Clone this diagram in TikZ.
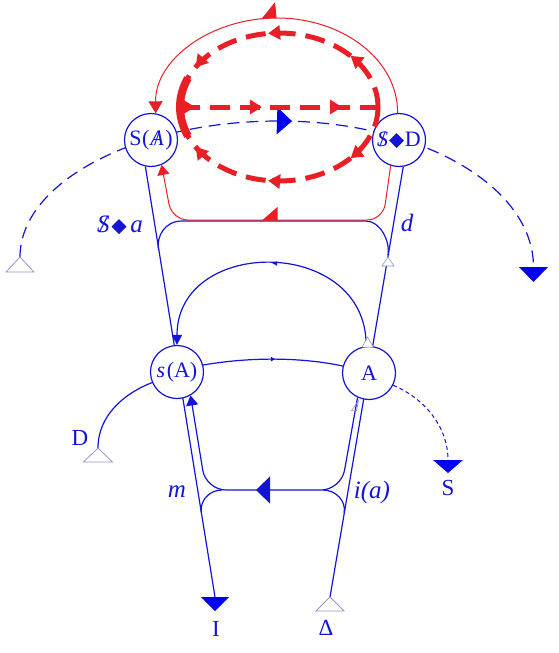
\documentclass[tikz,border=0pt]{standalone}
\usepackage{fontspec}
\setmainfont{Liberation Serif}
\usetikzlibrary{arrows.meta,decorations.markings}
\pgfdeclarelayer{bg}
\pgfsetlayers{bg,main}
\definecolor{bl}{RGB}{20,20,215}
\definecolor{bf}{RGB}{0,0,240}
\definecolor{rd}{RGB}{232,32,38}
\definecolor{tg}{RGB}{150,150,205}
\newcommand{\barS}{\ooalign{\textit{S}\cr\hfil/\hfil}}
\newcommand{\barA}{\ooalign{\textit{A}\cr\hfil/\hfil}}
\newcommand{\dmd}{\raisebox{-1.5pt}{\rotatebox{45}{\rule{10.5pt}{10.5pt}}}}
\tikzset{
  redTip/.tip={Triangle[length=12pt,width=14pt]},
  bline/.style={draw=bl,line width=1.2pt},
  rline/.style={draw=rd,line width=1pt},
  circ/.style={circle,draw=bl,line width=1.2pt,fill=white,minimum size=53pt,inner sep=0pt,text=bl,font=\fontsize{22}{24}\selectfont},
  lab/.style={text=bl,inner sep=0pt,font=\fontsize{23}{25}\selectfont},
  ilab/.style={text=bl,inner sep=0pt,font=\fontsize{25}{27}\selectfont\itshape},
  opentri/.style={draw=tg,line width=0.8pt,fill=white},
  bdash/.style={bline,dash pattern=on 12pt off 7pt},
  sdash/.style={draw=bl,line width=1pt,dash pattern=on 4pt off 3pt},
  rdash/.style={draw=rd,line width=5pt,dash pattern=on 20pt off 10pt},
  midmarks/.style={postaction={solid,decorate},decoration={markings,#1}}
}
\begin{document}
\begin{tikzpicture}[x=1pt,y=-1pt]
\useasboundingbox (0,0) rectangle (559,653);
\begin{pgfonlayer}{bg}
\fill[white] (0,0) rectangle (559,653);
\end{pgfonlayer}

% main nodes
\node[circ] (sa) at (151,140) {S\kern0.5pt(\kern1pt\barA\kern1.5pt)};
\node[circ] (sd) at (399,140) {\barS\kern1pt\dmd\kern1pt D};
\node[circ] (ssa) at (177,372) {\textit{s}\kern1.5pt(A)};
\node[circ] (A) at (369,373) {A};

% free ends
\coordinate (Lt) at (20,257);
\coordinate (top) at (279,121);
\coordinate (Rt) at (533.5,267);
\coordinate (Itop) at (215,597);
\coordinate (Dtop) at (330,597);
\coordinate (Dt) at (98,448);
\coordinate (St) at (448,460);
\coordinate (bl) at (158.5,250);
\coordinate (br) at (388,255);
\coordinate (hl) at (222,490);
\coordinate (hr) at (323,490);
\coordinate (ml) at (201.4,513);
\coordinate (mr) at (344.2,513);
\coordinate (er) at (378,107);
\coordinate (el) at (180,107);
\coordinate (et) at (279,33);
\coordinate (eb) at (279,181);
\coordinate (rt) at (277,18);

\begin{pgfonlayer}{bg}
\draw[bline] (sa.258) -- (Itop);
\draw[bline] (sd.279) -- (Dtop);
\draw[bdash] (Lt) .. controls (20,182) and (137,121) .. (top);
\draw[bdash,midmarks={mark=at position 13pt with {\arrow{Triangle[length=15pt,width=27pt,color=bf]}}}] (top) .. controls (420,121) and (533.5,186) .. (Rt);
\end{pgfonlayer}

% red top arc
\draw[rline,-{Triangle[length=12pt,width=14pt]},
  midmarks={mark=at position 0.545 with {\arrow{Triangle[length=15pt,width=30pt,right]}}}]
  (sd.93) .. controls (398,60) and (343,18) .. (rt) .. controls (210,18) and (155,60) .. (sa.80);

% blue bridge
\draw[bline] (bl) .. controls (156.2,236) and (165,221) .. (182,221) -- (366,221) .. controls (380,221) and (390.4,241) .. (br);

% red lower path
\draw[rline,rounded corners=16pt,-{Triangle[length=10pt,width=12pt]},
  midmarks={mark=at position 170pt with {\arrow{Triangle[length=15pt,width=26pt,right]}}}]
  (sd.252) -- (383,220) -- (172,220) -- (sa.293);

% A -> s(A) big arc
\draw[bline,-{Triangle[length=10pt,width=10pt]},
  midmarks={mark=at position 0.5 with {\arrow{Latex[length=5pt,width=5pt]}}}]
  (A.96) .. controls (367,236) and (177,236) .. (ssa.90);

% s(A) -> A
\draw[bline,midmarks={mark=at position 0.52 with {\arrow{Latex[length=5pt,width=5pt]}}}]
  (ssa.15) .. controls (250,357) and (300,357) .. (A.165);

% bottom inner path
\draw[bline,rounded corners=20pt,-{Triangle[length=10pt,width=12pt]},
  midmarks={mark=at position 172pt with {\arrow{Triangle[length=14pt,width=27pt]}}}]
  (A.245) -- (341,490) -- (206,490) -- (ssa.300);
\draw[bline] (hl) .. controls (209,490) and (199.4,501) .. (ml);
\draw[bline] (hr) .. controls (336,490) and (346.2,501) .. (mr);

% D and S arcs
\draw[bline] (ssa.203) .. controls (125,393) and (98,415) .. (Dt);
\draw[sdash] (A.333) .. controls (422,397) and (448,425) .. (St);

% end triangles
\draw[opentri] (Lt) -- ++(14,15) -- ++(-28,0) -- cycle;
\draw[opentri] (Dt) -- ++(14.5,14) -- ++(-29,0) -- cycle;
\draw[opentri] (Dtop) -- ++(14,14) -- ++(-28,0) -- cycle;
\fill[bf] (Itop) ++(-14,0) -- ++(28,0) -- ++(-14,14) -- cycle;
\fill[bf] (Rt) ++(-14.5,0) -- ++(29,0) -- ++(-14.5,15) -- cycle;
\fill[bf] (St) ++(-15,0) -- ++(30,0) -- ++(-15,13) -- cycle;
\draw[opentri,line width=0.6pt] (br) ++(0,2) -- ++(6,9) -- ++(-12,0) -- cycle;
\draw[opentri,line width=0.6pt] (A.96) ++(1.5,-9) -- ++(5.5,10) -- ++(-11,0) -- cycle;
\draw[draw=tg,line width=0.6pt] (A.245) ++(1,3) -- ++(-7,10) -- ++(5,0) -- cycle;

% red dashed ellipse
\draw[rdash,midmarks={mark=at position 0.22 with {\arrow{redTip}},mark=at position 0.54 with {\arrow{redTip}},mark=at position 0.84 with {\arrow{redTip}}}]
  (er) .. controls (378,66.1) and (333.7,33) .. (et) .. controls (224.3,33) and (180,66.1) .. (el);
\draw[rdash,midmarks={mark=at position 0.22 with {\arrow{redTip}},mark=at position 0.54 with {\arrow{redTip}},mark=at position 0.84 with {\arrow{redTip}}}]
  (er) .. controls (378,147.9) and (333.7,181) .. (eb) .. controls (224.3,181) and (180,147.9) .. (el);
\draw[rdash,midmarks={mark=at position 15pt with {\arrow{redTip}},mark=at position 82pt with {\arrow{redTip}},mark=at position 162pt with {\arrow{redTip}}}]
  (el) -- (er);
\draw[rd,line width=8pt] (187.9,78.1) .. controls (177.4,96.6) and (177.4,117.4) .. (187.9,135.9);

% labels
\node[ilab] (lsa) at (120,225) {\barS\kern2pt\dmd\kern4pt a};
\node[ilab] (ld) at (407,223) {d};
\node[ilab] (lm) at (177,492) {m};
\node[ilab] (lia) at (372,492) {i(a)};
\node[lab] (lD) at (80,438) {D};
\node[lab] (lS) at (448,488) {S};
\node[lab] (lI) at (216,629) {I};
\node[lab] (lDel) at (326,628) {Δ};
\end{tikzpicture}
\end{document}
